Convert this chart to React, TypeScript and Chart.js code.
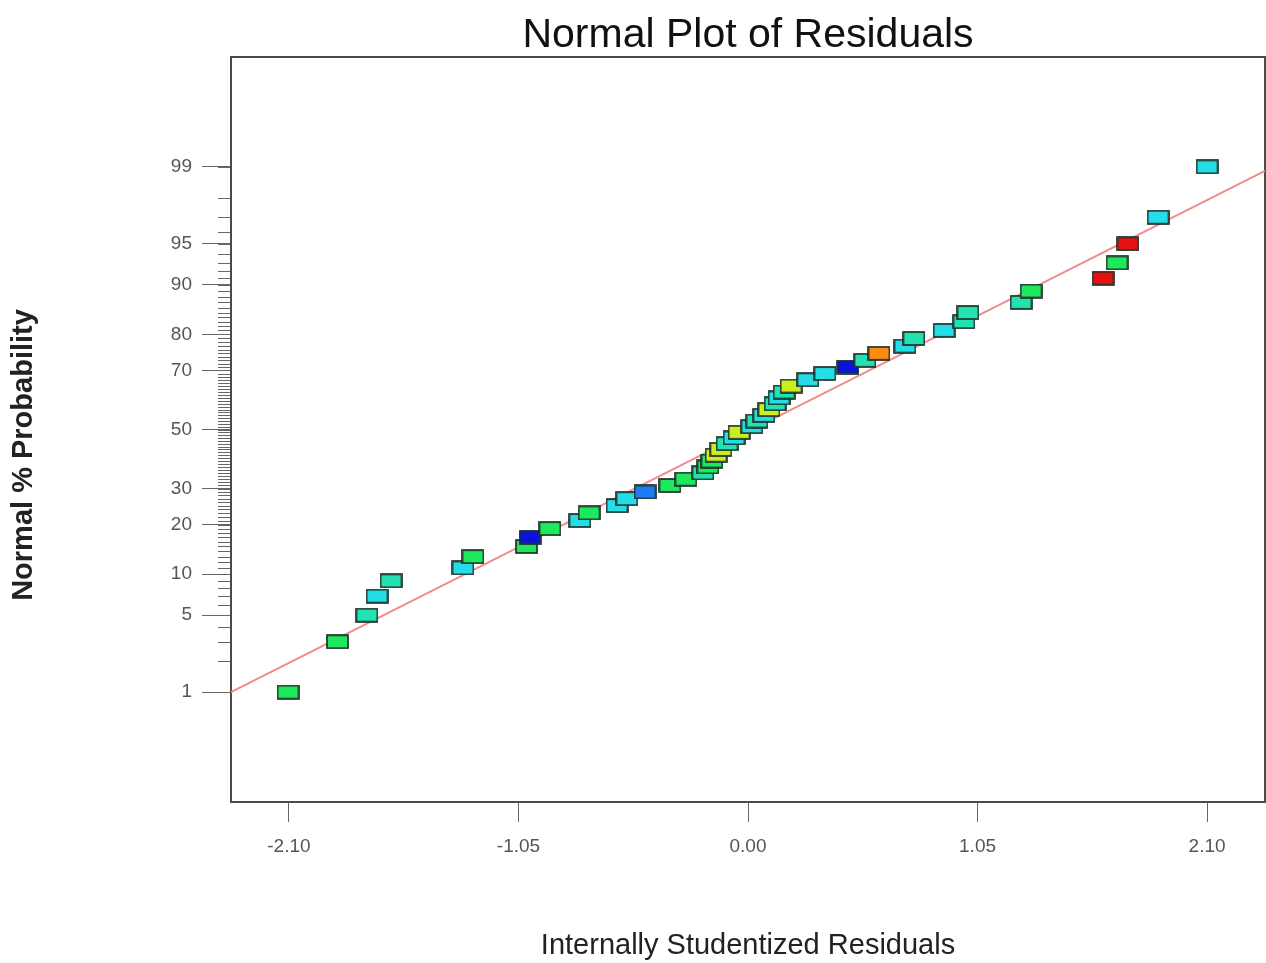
import React, { useEffect, useRef } from "react";
import { Chart, registerables } from "chart.js";

Chart.register(...registerables);

const FONT = "'Liberation Sans', Arial, sans-serif";

const chartTitle = "Normal Plot of Residuals";
const xAxisTitle = "Internally Studentized Residuals";
const yAxisTitle = "Normal % Probability";

const xTickValues = [-2.1, -1.05, 0, 1.05, 2.1];
const yTickPercents = [1, 5, 10, 20, 30, 50, 70, 80, 90, 95, 99];
const xRange = [-2.365, 2.365];
const yZRange = [-3.3, 3.3];

// Studentized residuals (sorted), their normal % probability and marker colours
const residuals = [
  -2.104, -1.878, -1.743, -1.697, -1.633, -1.304, -1.258, -1.013, -0.997, -0.906,
  -0.769, -0.727, -0.599, -0.554, -0.471, -0.357, -0.284, -0.206, -0.183, -0.165,
  -0.146, -0.124, -0.096, -0.064, -0.041, 0.018, 0.041, 0.073, 0.096, 0.124,
  0.142, 0.165, 0.197, 0.274, 0.352, 0.457, 0.535, 0.599, 0.718, 0.759,
  0.897, 0.988, 1.006, 1.249, 1.295, 1.624, 1.688, 1.738, 1.876, 2.1,
];
const probabilities = [
  1, 3, 5, 7, 9, 11, 13, 15, 17, 19,
  21, 23, 25, 27, 29, 31, 33, 35, 37, 39,
  41, 43, 45, 47, 49, 51, 53, 55, 57, 59,
  61, 63, 65, 67, 69, 71, 73, 75, 77, 79,
  81, 83, 85, 87, 89, 91, 93, 95, 97, 99,
];
const G = "#1ee85c";
const T = "#22e2b2";
const C = "#25dde6";
const Y = "#cdee1e";
const DB = "#0a14d8";
const MB = "#1c7df2";
const O = "#ff8a12";
const R = "#e61212";
const pointColors = [
  G, G, T, C, T, C, G, G, DB, G,
  C, G, C, C, MB, G, G, T, G, G,
  Y, Y, T, C, Y, C, T, C, Y, T,
  C, T, Y, C, C, DB, T, O, C, T,
  C, T, T, T, G, R, G, R, C, C,
];

const fitLineX = [-2.365, 2.365];
const fitLinePercent = [1.0, 98.9];

function probit(p: number): number {
  const a = [-3.969683028665376e1, 2.209460984245205e2, -2.759285104469687e2, 1.38357751867269e2, -3.066479806614716e1, 2.506628277459239];
  const b = [-5.447609879822406e1, 1.615858368580409e2, -1.556989798598866e2, 6.680131188771972e1, -1.328068155288572e1];
  const c = [-7.784894002430293e-3, -3.223964580411365e-1, -2.400758277161838, -2.549732539343734, 4.374664141464968, 2.938163982698783];
  const d = [7.784695709041462e-3, 3.224671290700398e-1, 2.445134137142996, 3.754408661907416];
  const pl = 0.02425;
  const ph = 1 - pl;
  if (p < pl) {
    const q = Math.sqrt(-2 * Math.log(p));
    return (((((c[0] * q + c[1]) * q + c[2]) * q + c[3]) * q + c[4]) * q + c[5]) / ((((d[0] * q + d[1]) * q + d[2]) * q + d[3]) * q + 1);
  }
  if (p <= ph) {
    const q = p - 0.5;
    const r = q * q;
    return ((((((a[0] * r + a[1]) * r + a[2]) * r + a[3]) * r + a[4]) * r + a[5]) * q) / (((((b[0] * r + b[1]) * r + b[2]) * r + b[3]) * r + b[4]) * r + 1);
  }
  const q = Math.sqrt(-2 * Math.log(1 - p));
  return -(((((c[0] * q + c[1]) * q + c[2]) * q + c[3]) * q + c[4]) * q + c[5]) / ((((d[0] * q + d[1]) * q + d[2]) * q + d[3]) * q + 1);
}

function makeMarker(color: string): HTMLCanvasElement {
  const cv = document.createElement("canvas");
  cv.width = 23;
  cv.height = 15;
  const ctx = cv.getContext("2d")!;
  ctx.fillStyle = color;
  ctx.fillRect(1, 1, 21, 13);
  ctx.strokeStyle = "#1d3129";
  ctx.lineWidth = 1.7;
  ctx.strokeRect(1, 1, 21, 13);
  return cv;
}

const framePlugin = {
  id: "frameAndMinorTicks",
  beforeDatasetsDraw(chart: any) {
    const { ctx, chartArea } = chart;
    const ys = chart.scales.y;
    ctx.save();
    ctx.strokeStyle = "#666";
    ctx.lineWidth = 1;
    for (let p = 1; p <= 99; p++) {
      const py = Math.round(ys.getPixelForValue(probit(p / 100))) + 0.5;
      ctx.beginPath();
      ctx.moveTo(chartArea.left - 13, py);
      ctx.lineTo(chartArea.left, py);
      ctx.stroke();
    }
    ctx.strokeStyle = "#4a4a4a";
    ctx.lineWidth = 2;
    ctx.strokeRect(chartArea.left, chartArea.top, chartArea.right - chartArea.left, chartArea.bottom - chartArea.top);
    ctx.restore();
  },
  afterDraw(chart: any) {
    const { ctx } = chart;
    ctx.save();
    ctx.translate(24, 455);
    ctx.rotate(-Math.PI / 2);
    ctx.font = `bold 29px ${FONT}`;
    ctx.fillStyle = "#222";
    ctx.textAlign = "center";
    ctx.textBaseline = "middle";
    ctx.fillText(yAxisTitle, 0, 0);
    ctx.restore();
  },
};

export default function App() {
  const ref = useRef<HTMLCanvasElement | null>(null);

  useEffect(() => {
    if (!ref.current) return;
    Chart.defaults.font.family = FONT;
    const chart = new Chart(ref.current, {
      type: "scatter",
      data: {
        datasets: [
          {
            type: "scatter",
            data: residuals.map((x, i) => ({ x, y: probit(probabilities[i] / 100) })),
            pointStyle: pointColors.map((c) => makeMarker(c)) as any,
            pointRadius: 0.5,
            pointHitRadius: 0,
            pointHoverRadius: 0.5,
            pointBorderWidth: 0,
            order: 0,
            clip: false,
          } as any,
          {
            type: "line",
            data: fitLineX.map((x, i) => ({ x, y: probit(fitLinePercent[i] / 100) })),
            borderColor: "#f08c8c",
            borderWidth: 2,
            pointRadius: 0,
            pointHitRadius: 0,
            order: 1,
          } as any,
        ],
      },
      options: {
        animation: false,
        responsive: false,
        layout: { padding: { left: 0, right: 1, top: 0, bottom: 0 } },
        plugins: {
          legend: { display: false },
          tooltip: { enabled: false },
          title: {
            display: true,
            text: chartTitle,
            fullSize: false,
            color: "#111",
            font: { family: FONT, size: 41, weight: "normal", lineHeight: 1 },
            padding: { top: 15, bottom: 1 },
          },
        },
        scales: {
          x: {
            type: "linear",
            min: xRange[0],
            max: xRange[1],
            afterBuildTicks: (s: any) => {
              s.ticks = xTickValues.map((v) => ({ value: v }));
            },
            ticks: {
              callback: (v: any) => Number(v).toFixed(2),
              color: "#555",
              font: { family: FONT, size: 19 },
              padding: 13,
              maxRotation: 0,
              autoSkip: false,
            },
            grid: { drawOnChartArea: false, tickLength: 20, color: "#666" },
            border: { display: false },
            title: {
              display: true,
              text: xAxisTitle,
              color: "#222",
              font: { family: FONT, size: 29 },
              padding: { top: 0, bottom: 0 },
            },
            afterFit: (s: any) => {
              s.height = 161;
              s.paddingLeft = 0;
              s.paddingRight = 0;
            },
          },
          y: {
            type: "linear",
            min: yZRange[0],
            max: yZRange[1],
            afterBuildTicks: (s: any) => {
              s.ticks = yTickPercents.map((p) => ({ value: probit(p / 100) }));
            },
            ticks: {
              callback: (_v: any, i: number) => String(yTickPercents[i]),
              color: "#555",
              font: { family: FONT, size: 19 },
              padding: 10,
              autoSkip: false,
            },
            grid: { drawOnChartArea: false, tickLength: 29, color: "#666" },
            border: { display: false },
            afterFit: (s: any) => {
              s.width = 231;
              s.paddingTop = 0;
              s.paddingBottom = 0;
            },
          },
        },
      },
      plugins: [framePlugin],
    });
    return () => chart.destroy();
  }, []);

  return (
    <div style={{ position: "fixed", left: 0, top: 0, width: 1266, height: 963, background: "#fff" }}>
      <canvas ref={ref} width={1266} height={963} style={{ display: "block" }} />
    </div>
  );
}
